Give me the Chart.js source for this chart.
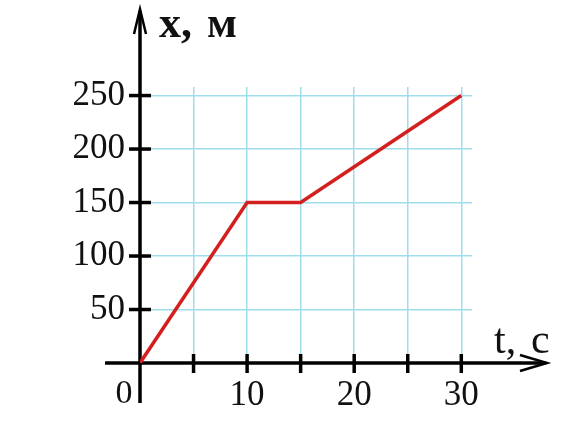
<!DOCTYPE html>
<html>
<head>
<meta charset="utf-8">
<script src="https://cdn.jsdelivr.net/npm/chart.js@4/dist/chart.umd.min.js"></script>
<style>
  html, body { margin: 0; padding: 0; background: #fff; }
  #wrap { width: 572px; height: 428px; }
</style>
</head>
<body>
<div id="wrap"><canvas id="c" width="572" height="428"></canvas></div>
<script>
"use strict";

// ── Data ──────────────────────────────────────────────
const times     = [0, 10, 15, 30];        // t, c
const positions = [0, 150, 150, 250];     // x, м
const xTickVals = [5, 10, 15, 20, 25, 30];
const xTickLbls = ["", "10", "", "20", "", "30"];
const yTickVals = [50, 100, 150, 200, 250];
const yTickLbls = ["50", "100", "150", "200", "250"];

const SERIF = "'Liberation Serif', 'DejaVu Serif', serif";

// ── Axes with arrows, tick marks, axis titles ─────────
const axesPlugin = {
  id: "axes",
  beforeDatasetsDraw(chart) {
    const { ctx, scales: { x, y } } = chart;
    const x0 = x.getPixelForValue(0);
    const y0 = y.getPixelForValue(0);
    ctx.save();
    ctx.strokeStyle = "#000";
    ctx.lineWidth = 3.5;
    ctx.lineCap = "butt";

    // vertical axis
    ctx.beginPath();
    ctx.moveTo(x0, 403);
    ctx.lineTo(x0, 11);
    ctx.stroke();
    ctx.lineWidth = 2.5;
    ctx.beginPath();
    ctx.moveTo(x0 - 6, 34);
    ctx.lineTo(x0, 9);
    ctx.lineTo(x0 + 6, 34);
    ctx.stroke();

    // horizontal axis
    ctx.lineWidth = 3.5;
    ctx.beginPath();
    ctx.moveTo(105, y0);
    ctx.lineTo(546, y0);
    ctx.stroke();
    ctx.lineWidth = 2.5;
    ctx.beginPath();
    ctx.moveTo(520, y0 - 8);
    ctx.lineTo(547, y0);
    ctx.lineTo(520, y0 + 8);
    ctx.stroke();

    // tick marks across the axes
    ctx.lineWidth = 3.5;
    yTickVals.forEach(v => {
      const py = y.getPixelForValue(v);
      ctx.beginPath();
      ctx.moveTo(x0 - 11, py);
      ctx.lineTo(x0 + 11, py);
      ctx.stroke();
    });
    xTickVals.forEach(v => {
      const px = x.getPixelForValue(v);
      ctx.beginPath();
      ctx.moveTo(px, y0 - 9);
      ctx.lineTo(px, y0 + 10);
      ctx.stroke();
    });

    // titles and origin label
    ctx.fillStyle = "#111";
    ctx.textBaseline = "alphabetic";
    ctx.textAlign = "left";
    ctx.font = "bold 44px " + SERIF;
    ctx.fillText("х,", 159, 37);
    ctx.fillText("м", 207, 37);
    ctx.font = "42px " + SERIF;
    ctx.fillText("t,", 494, 353);
    ctx.fillText("с", 531, 353);
    ctx.font = "34px " + SERIF;
    ctx.textAlign = "center";
    ctx.fillText("0", 124, 403);
    ctx.restore();
  }
};

new Chart(document.getElementById("c"), {
  type: "line",
  data: {
    datasets: [{
      data: times.map((t, i) => ({ x: t, y: positions[i] })),
      borderColor: "#d41f1f",
      borderWidth: 3.5,
      pointRadius: 0,
      tension: 0,
      fill: false,
    }],
  },
  options: {
    responsive: false,
    animation: false,
    events: [],
    layout: { padding: { top: 87, right: 100, left: 0, bottom: 0 } },
    plugins: { legend: { display: false }, tooltip: { enabled: false } },
    scales: {
      x: {
        type: "linear",
        min: 0,
        max: 31,
        afterFit: (s) => { s.height = 65; },
        afterBuildTicks: (s) => { s.ticks = xTickVals.map(v => ({ value: v })); },
        grid: { color: "#9fdcec", lineWidth: 1.5, drawTicks: false },
        border: { display: false },
        ticks: {
          padding: 12,
          maxRotation: 0,
          autoSkip: false,
          color: "#111",
          font: { family: SERIF, size: 35 },
          callback: (v) => xTickLbls[xTickVals.indexOf(v)] ?? "",
        },
      },
      y: {
        type: "linear",
        min: 0,
        max: 258,
        afterFit: (s) => { s.width = 140; },
        afterBuildTicks: (s) => { s.ticks = yTickVals.map(v => ({ value: v })); },
        grid: { color: "#9fdcec", lineWidth: 1.5, drawTicks: false },
        border: { display: false },
        ticks: {
          padding: 15,
          autoSkip: false,
          color: "#111",
          font: { family: SERIF, size: 35 },
          callback: (v) => yTickLbls[yTickVals.indexOf(v)] ?? "",
        },
      },
    },
  },
  plugins: [axesPlugin],
});
</script>
</body>
</html>
